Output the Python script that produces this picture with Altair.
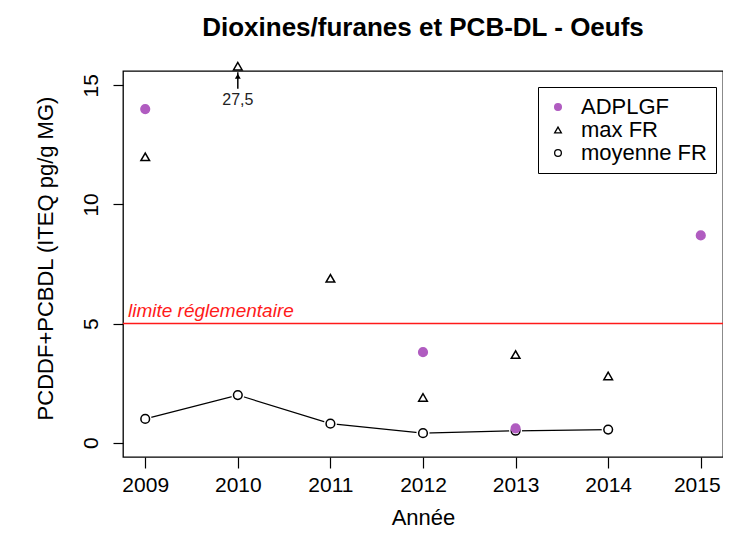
import altair as alt
import pandas as pd

# ---- data ----
adplgf_years = [2009, 2012, 2013, 2015]
adplgf_values = [14.0, 3.8, 0.6, 8.7]

max_years = [2009, 2010, 2011, 2012, 2013, 2014]
max_values = [12.0, 15.8, 6.9, 1.9, 3.7, 2.8]   # 2010 shown at top edge (true value 27.5)

moy_years = [2009, 2010, 2011, 2012, 2013, 2014]
moy_values = [1.0, 2.0, 0.8, 0.4, 0.5, 0.55]

series_names = ["ADPLGF", "max FR", "moyenne FR"]
tick_years = [2009, 2010, 2011, 2012, 2013, 2014, 2015]
tick_values = [0, 5, 10, 15]

limit_value = [5]
limit_label = ["limite réglementaire"]

arrow_year = [2010]
arrow_from = [14.85]
arrow_to = [15.55]
arrow_head = [15.38]
arrow_label = ["27,5"]
arrow_label_y = [14.4]

PURPLE = "#B05CC0"
FONT = "Liberation Sans"

pts = pd.DataFrame(
    {"annee": max_years + moy_years + adplgf_years,
     "valeur": max_values + moy_values + adplgf_values,
     "serie": ["max FR"] * len(max_years) + ["moyenne FR"] * len(moy_years) + ["ADPLGF"] * len(adplgf_years)}
)
moy = pd.DataFrame({"annee": moy_years, "valeur": moy_values})

xdom = [2008.76, 2015.24]
ydom = [-0.6, 15.6]

x = alt.X("annee:Q", scale=alt.Scale(domain=xdom, nice=False, zero=False),
          axis=alt.Axis(values=tick_years, format="d", title="Année", domain=False,
                        grid=False, ticks=True, tickSize=11, tickColor="black", tickWidth=1.2,
                        labelFontSize=21, labelPadding=6, labelColor="black", labelFont=FONT,
                        labelFlush=False, labelOverlap=False,
                        labelOffset={"condition": {"test": "datum.value == 2015", "value": -4},
                                     "value": 0},
                        titleFontSize=22, titleFont=FONT, titleFontWeight="normal",
                        titleColor="black", titleX=300, titleY=60, titleBaseline="middle"))
y = alt.Y("valeur:Q", scale=alt.Scale(domain=ydom, nice=False, zero=False),
          axis=alt.Axis(values=tick_values, title="PCDDF+PCBDL (ITEQ pg/g MG)", domain=False,
                        grid=False, ticks=True, tickSize=10, tickColor="black", tickWidth=1.2,
                        labelFontSize=21, labelAngle=270, labelAlign="center",
                        labelBaseline="alphabetic", labelPadding=16, labelColor="black",
                        labelFont=FONT, titleFontSize=22, titleFont=FONT,
                        titleFontWeight="normal", titleColor="black", titleX=-78, titleY=187,
                        titleBaseline="middle", titleAngle=270))

line = alt.Chart(moy).mark_line(color="black", strokeWidth=1.2).encode(x=x, y=y)
halo = alt.Chart(moy).mark_point(filled=True, color="white", size=170, opacity=1).encode(x=x, y=y)

points = alt.Chart(pts).mark_point(strokeWidth=1.5, size=75, opacity=1).encode(
    x=x, y=y,
    shape=alt.Shape("serie:N", scale=alt.Scale(domain=series_names,
                                                range=["circle", "triangle-up", "circle"]),
                    legend=alt.Legend(title=None, orient="none", legendX=415, legendY=16,
                                      strokeColor="black", padding=9, labelFontSize=22,
                                      labelFont=FONT, labelColor="black", labelOffset=12,
                                      symbolSize=45, symbolStrokeWidth=1.3, rowPadding=1,
                                      fillColor="white")),
    fill=alt.Fill("serie:N", scale=alt.Scale(domain=series_names,
                                             range=[PURPLE, "white", "white"])),
    stroke=alt.Stroke("serie:N", scale=alt.Scale(domain=series_names,
                                                 range=[PURPLE, "black", "black"])),
)

limit_df = pd.DataFrame({"v": limit_value, "lab": limit_label})
limit_rule = alt.Chart(limit_df).mark_rule(color="#FF1A1A", strokeWidth=1.5).encode(y="v:Q")
limit_text = alt.Chart(limit_df).mark_text(
    color="#FF1A1A", fontStyle="italic", fontSize=19, font=FONT, align="left",
    baseline="bottom", dx=5, dy=-3).encode(x=alt.value(0), y="v:Q", text="lab:N")

arr = pd.DataFrame({"a": arrow_year, "y1": arrow_from, "y2": arrow_to, "yh": arrow_head,
                    "lab": arrow_label, "ly": arrow_label_y})
arrow_shaft = alt.Chart(arr).mark_rule(color="black", strokeWidth=1.5).encode(
    x="a:Q", y="y1:Q", y2="y2:Q")
arrow_tip = alt.Chart(arr).mark_point(shape="triangle-up", filled=True, color="black",
                                      size=35, opacity=1).encode(x="a:Q", y="yh:Q")
arrow_text = alt.Chart(arr).mark_text(fontSize=16, font=FONT, color="#222222",
                                      baseline="middle").encode(x="a:Q", y="ly:Q", text="lab:N")

chart = alt.layer(
    limit_rule, limit_text, line, halo, points, arrow_shaft, arrow_tip, arrow_text
).properties(
    width=600, height=386,
    title=alt.Title("Dioxines/furanes et PCB-DL - Oeufs", fontSize=26, font=FONT,
                    fontWeight="bold", color="black", anchor="middle", offset=-3,
                    baseline="alphabetic"),
    autosize=alt.AutoSizeParams(type="none"),
    padding={"left": 115, "top": 63, "right": 0, "bottom": 73},
    background="white",
).configure_view(stroke="black", strokeWidth=1.3)

chart.save("out.html", embed_options={"renderer": "svg", "actions": False})
